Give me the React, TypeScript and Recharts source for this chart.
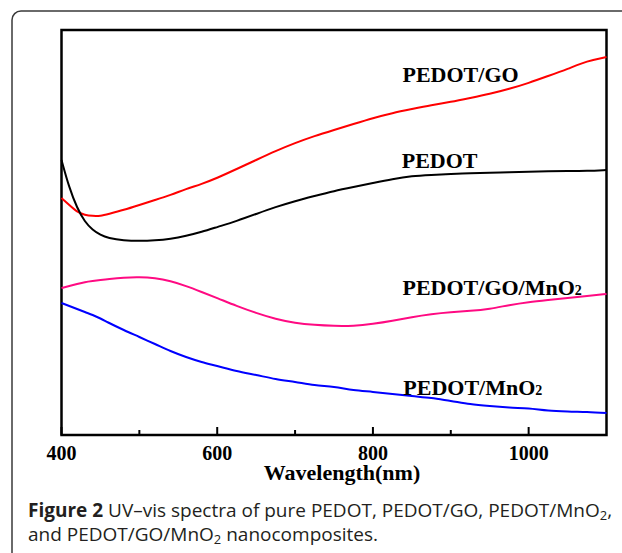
import { LineChart, Line, XAxis, YAxis, ReferenceArea, ReferenceDot } from 'recharts'

// wavelength (nm)
const wavelengths = [400, 410, 420, 430, 440, 450, 460, 480, 500, 520, 540, 560, 580, 600, 625, 650, 675, 700, 725, 750, 775, 800, 825, 850, 875, 900, 925, 950, 975, 1000, 1025, 1050, 1075, 1100]

// absorbance (a.u.)
const pedot = [2.75, 2.47, 2.27, 2.13, 2.05, 2.0, 1.97, 1.945, 1.94, 1.945, 1.96, 1.99, 2.03, 2.08, 2.14, 2.21, 2.28, 2.34, 2.39, 2.44, 2.48, 2.52, 2.56, 2.59, 2.6, 2.61, 2.62, 2.62, 2.63, 2.63, 2.64, 2.64, 2.64, 2.65]
const pedotGo = [2.37, 2.3, 2.23, 2.2, 2.19, 2.19, 2.21, 2.25, 2.3, 2.35, 2.4, 2.46, 2.51, 2.57, 2.66, 2.75, 2.84, 2.92, 2.99, 3.05, 3.11, 3.17, 3.22, 3.26, 3.3, 3.33, 3.37, 3.41, 3.46, 3.52, 3.59, 3.66, 3.74, 3.78]
const pedotGoMnO2 = [1.47, 1.49, 1.51, 1.53, 1.54, 1.55, 1.56, 1.575, 1.58, 1.57, 1.54, 1.49, 1.43, 1.37, 1.29, 1.22, 1.16, 1.12, 1.1, 1.09, 1.09, 1.11, 1.14, 1.18, 1.21, 1.23, 1.24, 1.26, 1.3, 1.33, 1.35, 1.37, 1.39, 1.41]
const pedotMnO2 = [1.32, 1.29, 1.26, 1.23, 1.2, 1.165, 1.125, 1.05, 0.98, 0.91, 0.84, 0.78, 0.73, 0.69, 0.64, 0.6, 0.56, 0.53, 0.5, 0.48, 0.45, 0.43, 0.41, 0.39, 0.37, 0.34, 0.31, 0.29, 0.275, 0.265, 0.245, 0.235, 0.23, 0.22]

const xTicks = [400, 500, 600, 700, 800, 900, 1000]
const majorTicks = [400, 600, 800, 1000]

const curveLabels = [
  { name: 'PEDOT/GO', sub: '', x: 838, y: 3.53 },
  { name: 'PEDOT', sub: '', x: 837, y: 2.67 },
  { name: 'PEDOT/GO/MnO', sub: '2', x: 838, y: 1.4 },
  { name: 'PEDOT/MnO', sub: '2', x: 839, y: 0.4 },
]

const data = wavelengths.map((w, i) => ({
  w,
  pedot: pedot[i],
  pedotGo: pedotGo[i],
  pedotGoMnO2: pedotGoMnO2[i],
  pedotMnO2: pedotMnO2[i],
}))

const serif = '"Liberation Serif", "Times New Roman", serif'
const sans = '"Open Sans", sans-serif'

function XTick({ x, y, payload }: any) {
  const major = majorTicks.includes(payload.value)
  return (
    <g>
      <line x1={x} x2={x} y1={y} y2={y - (major ? 8 : 5)} stroke="#000" strokeWidth={2} />
      {major && (
        <text x={x} y={y + 25} textAnchor="middle" fontFamily={serif} fontWeight="bold" fontSize={20} fill="#000">
          {payload.value}
        </text>
      )}
    </g>
  )
}

function XLabel({ viewBox }: any) {
  return (
    <text x={viewBox.x + viewBox.width / 2 + 8} y={viewBox.y + 45} textAnchor="middle" fontFamily={serif} fontWeight="bold" fontSize={22} fill="#000">
      Wavelength(nm)
    </text>
  )
}

function YLabel({ viewBox }: any) {
  const cx = viewBox.x - 8.5
  const cy = viewBox.y + viewBox.height / 2 - 12
  return (
    <text x={cx} y={cy} transform={`rotate(-90 ${cx} ${cy})`} textAnchor="middle" fontFamily={serif} fontWeight="bold" fontSize={22} fill="#000">
      Absorbance/(a.u.)
    </text>
  )
}

function CurveLabel({ viewBox, name, sub }: any) {
  const x = viewBox.x + viewBox.width / 2
  const y = viewBox.y + viewBox.height / 2
  return (
    <text x={x} y={y} fontFamily={serif} fontWeight="bold" fontSize={22} fill="#000">
      {name}
      {sub && <tspan fontSize={14}>{sub}</tspan>}
    </text>
  )
}

export default function App() {
  return (
    <div style={{ position: 'absolute', left: 0, top: 0, width: 622, height: 553, background: '#fff', overflow: 'hidden' }}>
      <svg width={622} height={553} style={{ position: 'absolute', left: 0, top: 0 }}>
        <rect x={12} y={11} width={700} height={600} rx={9} fill="none" stroke="#3a3a3a" strokeWidth={1.5} />
        <text x={28} y={517} fontFamily={sans} fontSize={19} fill="#231f20">
          <tspan fontWeight="bold">Figure 2</tspan> UV–vis spectra of pure PEDOT, PEDOT/GO, PEDOT/MnO
          <tspan fontSize={13} dy={3}>2</tspan>
          <tspan dy={-3}>,</tspan>
        </text>
        <text x={28} y={541} fontFamily={sans} fontSize={19} fill="#231f20">
          and PEDOT/GO/MnO
          <tspan fontSize={13} dy={3}>2</tspan>
          <tspan dy={-3}> nanocomposites.</tspan>
        </text>
      </svg>
      <div style={{ position: 'absolute', left: 0, top: 0 }}>
        <LineChart width={622} height={553} data={data} margin={{ top: 30, right: 15.5, bottom: 0, left: 61.5 }}>
          <XAxis
            dataKey="w"
            type="number"
            domain={[400, 1100]}
            ticks={xTicks}
            interval={0}
            height={118}
            axisLine={false}
            tickLine={false}
            tickSize={0}
            tickMargin={0}
            tick={<XTick />}
            label={<XLabel />}
          />
          <YAxis type="number" domain={[0, 4.05]} width={0} axisLine={false} tickLine={false} tick={false} label={<YLabel />} />
          <Line type="basis" dataKey="pedotGo" stroke="#ff0000" strokeWidth={2} dot={false} isAnimationActive={false} />
          <Line type="basis" dataKey="pedot" stroke="#000000" strokeWidth={2} dot={false} isAnimationActive={false} />
          <Line type="basis" dataKey="pedotGoMnO2" stroke="#ff0a82" strokeWidth={2} dot={false} isAnimationActive={false} />
          <Line type="monotone" dataKey="pedotMnO2" stroke="#0000ff" strokeWidth={2} dot={false} isAnimationActive={false} />
          <ReferenceArea x1={400} x2={1100} y1={0} y2={4.05} fill="none" stroke="#000" strokeWidth={2.5} ifOverflow="visible" />
          {curveLabels.map((c) => (
            <ReferenceDot key={c.name} x={c.x} y={c.y} r={0} fill="none" stroke="none" ifOverflow="visible" label={<CurveLabel name={c.name} sub={c.sub} />} />
          ))}
        </LineChart>
      </div>
    </div>
  )
}
